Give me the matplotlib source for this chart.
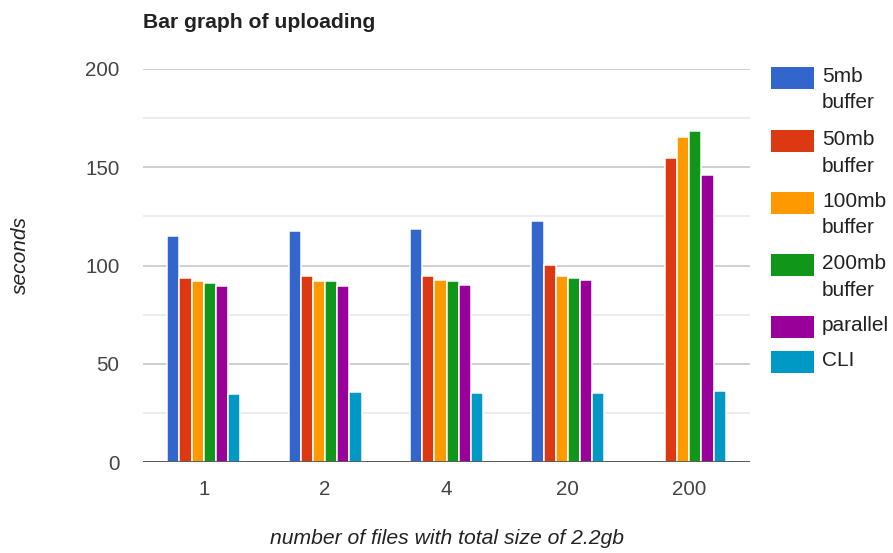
import numpy as np
import matplotlib.pyplot as plt
from matplotlib.patches import Rectangle

plt.rcParams['font.family'] = ['Liberation Sans', 'DejaVu Sans']

# upload times (seconds) per file-count group
file_counts = ["1", "2", "4", "20", "200"]
buffer_5mb = [115.2, 117.7, 118.6, 122.8, np.nan]
buffer_50mb = [93.7, 94.5, 94.5, 100.3, 154.5]
buffer_100mb = [92.0, 92.0, 92.8, 94.5, 165.3]
buffer_200mb = [91.2, 92.0, 92.0, 93.7, 168.5]
parallel = [89.4, 89.4, 90.3, 92.8, 146.2]
cli = [34.6, 35.4, 35.3, 35.3, 36.3]

series = [buffer_5mb, buffer_50mb, buffer_100mb, buffer_200mb, parallel, cli]
names = ["5mb\nbuffer", "50mb\nbuffer", "100mb\nbuffer", "200mb\nbuffer", "parallel", "CLI"]
colors = ["#3366cc", "#dc3912", "#ff9900", "#109618", "#990099", "#0099c6"]

W, H = 893, 553
fig = plt.figure(figsize=(W / 100, H / 100), dpi=100)
ax = fig.add_axes([143 / W, 1 - 462 / H, (750 - 143) / W, (462 - 69) / H])

x = np.arange(len(file_counts))
bw = 0.1
for i, (vals, c) in enumerate(zip(series, colors)):
    offs = (i - (len(series) - 1) / 2) * bw
    ax.bar(x + offs, vals, width=bw, color=c, edgecolor="white", linewidth=1.1, zorder=3)

ax.set_xlim(-0.5, len(file_counts) - 0.5)
ax.set_ylim(0, 200)
ax.set_xticks(x)
ax.set_xticklabels(file_counts)
ax.set_yticks([0, 50, 100, 150, 200])
ax.set_yticks([25, 75, 125, 175], minor=True)
ax.grid(axis="y", which="major", color="#cccccc", linewidth=1.3, zorder=0)
ax.grid(axis="y", which="minor", color="#ebebeb", linewidth=1.3, zorder=0)
ax.tick_params(axis="both", which="both", length=0, labelsize=14.8, labelcolor="#444444")
ax.tick_params(axis="y", pad=17)
ax.tick_params(axis="x", pad=13)
for s in ax.spines.values():
    s.set_visible(False)
ax.axhline(0, color="#333333", linewidth=1.8, zorder=4)

fig.text(143 / W, 1 - 22 / H, "Bar graph of uploading", fontsize=15.2, fontweight="bold",
         color="#222222", ha="left", va="center")
fig.text(20 / W, 1 - 255 / H, "seconds", fontsize=15, style="italic", color="#222222",
         rotation=90, ha="center", va="center")
fig.text((143 + 750) / 2 / W, 1 - 538 / H, "number of files with total size of 2.2gb",
         fontsize=15.2, style="italic", color="#222222", ha="center", va="center")

# legend on the right
box_tops = [67, 130, 192, 254, 316, 351]
for top, name, c in zip(box_tops, names, colors):
    fig.add_artist(Rectangle((771 / W, 1 - (top + 22) / H), 43 / W, 22 / H,
                             transform=fig.transFigure, facecolor=c, edgecolor="none"))
    fig.text(822 / W, 1 - top / H, name, fontsize=15, color="#222222",
             ha="left", va="top", linespacing=1.5)

fig.savefig("out.png", dpi=100)
